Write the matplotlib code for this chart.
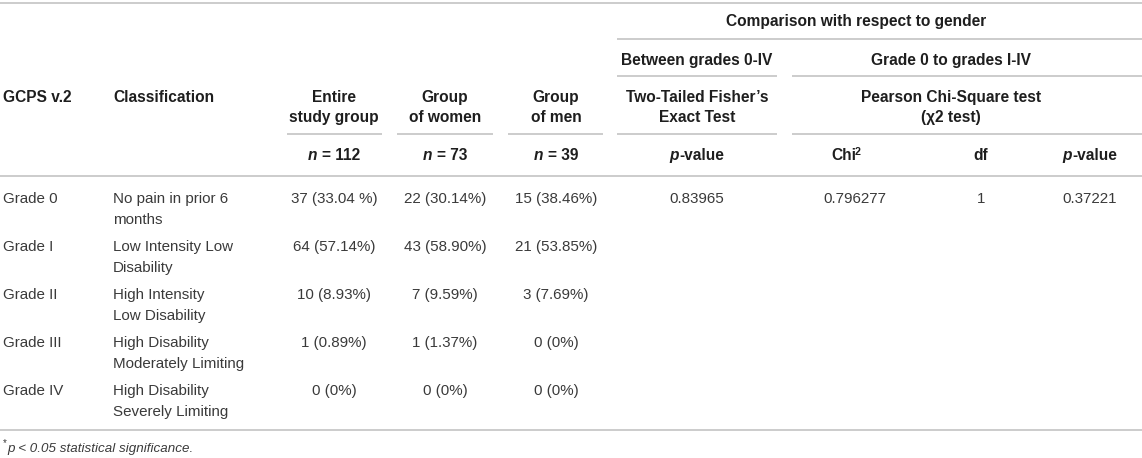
import matplotlib.pyplot as plt

plt.rcParams['font.family'] = ['Liberation Sans', 'DejaVu Sans']

# table content
grades = ['Grade 0', 'Grade I', 'Grade II', 'Grade III', 'Grade IV']
classification = [
    ('No pain in prior 6', 'months'),
    ('Low Intensity Low', 'Disability'),
    ('High Intensity', 'Low Disability'),
    ('High Disability', 'Moderately Limiting'),
    ('High Disability', 'Severely Limiting'),
]
entire = ['37 (33.04 %)', '64 (57.14%)', '10 (8.93%)', '1 (0.89%)', '0 (0%)']
women = ['22 (30.14%)', '43 (58.90%)', '7 (9.59%)', '1 (1.37%)', '0 (0%)']
men = ['15 (38.46%)', '21 (53.85%)', '3 (7.69%)', '0 (0%)', '0 (0%)']
fisher_p = ['0.83965', '', '', '', '']
chi2 = ['0.796277', '', '', '', '']
dof = ['1', '', '', '', '']
chi_p = ['0.37221', '', '', '', '']
group_n = ['112', '73', '39']

W, H = 1142, 458
FS_HEAD = 11.2
FS_BODY = 10.9
HEAD = '#1e1e1e'
BODY = '#3a3a3a'
RULE = '#c4c4c4'

fig = plt.figure(figsize=(W / 100, H / 100), dpi=100)
ax = fig.add_axes([0, 0, 1, 1])
ax.set_xlim(0, W)
ax.set_ylim(H, 0)
ax.axis('off')
renderer = fig.canvas.get_renderer()


def runs(x, y, parts, ha='center', color=HEAD, size=FS_HEAD):
    # parts: (text, style kwargs, gap after in px, baseline shift, size factor)
    texts, gaps = [], []
    for s, kw, gap, dy, f in parts:
        t = ax.text(0, y + 5 - dy, s, fontsize=size * f, color=color,
                    va='baseline', ha='left', **kw)
        texts.append(t)
        gaps.append(gap)
    widths = [t.get_window_extent(renderer).width for t in texts]
    total = sum(widths) + sum(gaps[:-1])
    start = x - total / 2 if ha == 'center' else x
    for t, w, g in zip(texts, widths, gaps):
        t.set_x(start)
        start += w + g


def label(x, y, s, ha='center', bold=True):
    ax.text(x, y + 5, s, fontsize=FS_HEAD if bold else FS_BODY, ha=ha, va='baseline',
            fontweight='bold' if bold else 'normal',
            color=HEAD if bold else BODY)


def rule(x0, x1, y):
    ax.plot([x0, x1], [y, y], color=RULE, lw=1.2, solid_capstyle='butt')


# rules
rule(0, W, 3)
rule(617, W, 39)
rule(617, 777, 76)
rule(792, W, 76)
for x0, x1 in [(287, 382), (397, 493), (508, 603), (617, 777), (792, W)]:
    rule(x0, x1, 134)
rule(0, W, 176)
rule(0, W, 430)

# header
B = {'fontweight': 'bold'}
BI = {'fontweight': 'bold', 'fontstyle': 'italic'}
label(856, 21, 'Comparison with respect to gender')
label(697, 60, 'Between grades 0-IV')
label(951, 60, 'Grade 0 to grades I-IV')
label(3, 97, 'GCPS v.2', ha='left')
label(113, 97, 'Classification', ha='left')
label(334, 97, 'Entire')
label(334, 117, 'study group')
label(445, 97, 'Group')
label(445, 117, 'of women')
label(556, 97, 'Group')
label(556, 117, 'of men')
label(697, 97, 'Two-Tailed Fisher\u2019s')
label(697, 117, 'Exact Test')
label(951, 97, 'Pearson Chi-Square test')
label(951, 117, '(\u03c72 test)')

for xc, n in zip([334, 445, 556], group_n):
    runs(xc, 155, [('n', BI, 5, 0, 1), ('= ' + n, B, 0, 0, 1)])
runs(697, 155, [('p', BI, 0.5, 0, 1), ('-value', B, 0, 0, 1)])
runs(846, 155, [('Chi', B, -1.5, 0, 1), ('2', B, 0, 5, 0.68)])
label(981, 155, 'df')
runs(1090, 155, [('p', BI, 0.5, 0, 1), ('-value', B, 0, 0, 1)])

# body
col_x = [334, 445, 556, 697, 855, 981, 1090]
for i, g in enumerate(grades):
    y = 198 + i * 48
    label(3, y, g, ha='left', bold=False)
    label(113, y, classification[i][0], ha='left', bold=False)
    label(113, y + 21, classification[i][1], ha='left', bold=False)
    row = [entire[i], women[i], men[i], fisher_p[i], chi2[i], dof[i], chi_p[i]]
    for xc, v in zip(col_x, row):
        if v:
            label(xc, y, v, bold=False)

# footnote
ax.text(3, 446, '*', fontsize=7, color=BODY, ha='left', va='baseline')
ax.text(7, 452, 'p < 0.05 statistical significance.', fontsize=9.6, color=BODY,
        fontstyle='italic', ha='left', va='baseline')

fig.savefig('out.png', dpi=100)
